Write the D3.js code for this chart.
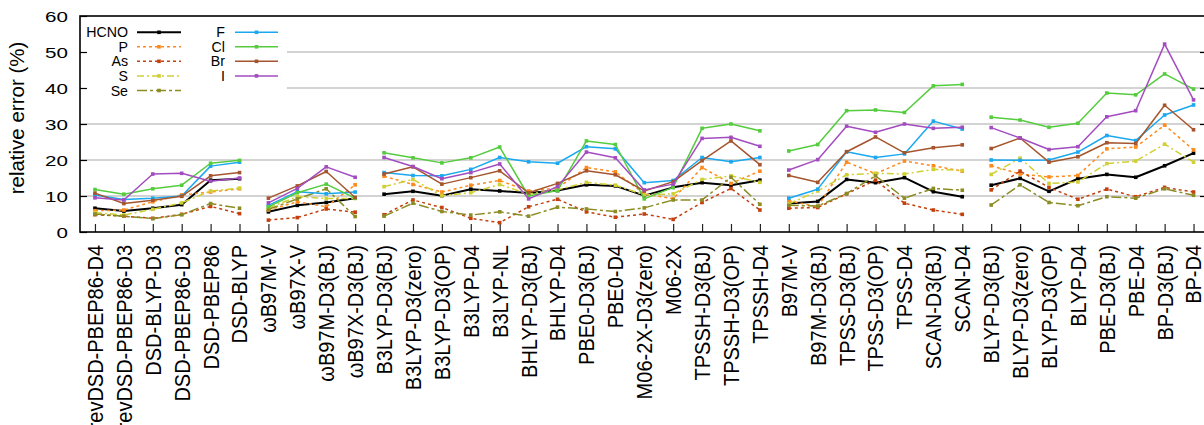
<!DOCTYPE html>
<html><head><meta charset="utf-8">
<script src="https://cdn.jsdelivr.net/npm/d3@7"></script>
<style>
body{margin:0;background:#fff}
svg{display:block}
text{font-family:"Liberation Sans",Arial,Helvetica,sans-serif;fill:#000}
</style>
</head><body>
<svg id="chart" width="1204" height="425"></svg>
<script>
const categories = ["revDSD-PBEP86-D4","revDSD-PBEP86-D3","DSD-BLYP-D3","DSD-PBEP86-D3","DSD-PBEP86","DSD-BLYP",
  "ωB97M-V","ωB97X-V","ωB97M-D3(BJ)","ωB97X-D3(BJ)",
  "B3LYP-D3(BJ)","B3LYP-D3(zero)","B3LYP-D3(OP)","B3LYP-D4","B3LYP-NL","BHLYP-D3(BJ)","BHLYP-D4","PBE0-D3(BJ)","PBE0-D4","M06-2X-D3(zero)","M06-2X","TPSSH-D3(BJ)","TPSSH-D3(OP)","TPSSH-D4",
  "B97M-V","B97M-D3(BJ)","TPSS-D3(BJ)","TPSS-D3(OP)","TPSS-D4","SCAN-D3(BJ)","SCAN-D4",
  "BLYP-D3(BJ)","BLYP-D3(zero)","BLYP-D3(OP)","BLYP-D4","PBE-D3(BJ)","PBE-D4","BP-D3(BJ)","BP-D4"];
const groupSizes = [6, 4, 14, 7, 8];
const seriesNames = ["HCNO","P","As","S","Se","F","Cl","Br","I"];
const yTicks = [0, 10, 20, 30, 40, 50, 60];

const hcnoVals = [6.6,5.8,6.6,7.6,14.4,14.8, 5.6,7.4,8.2,9.4, 10.5,11.3,10.1,11.9,11.4,10.8,11.5,13.1,12.8,10.1,12.4,13.7,13.0,14.4, 7.9,8.5,14.6,13.7,15.1,11.2,9.8, 13.0,14.9,11.3,14.8,16.0,15.2,18.4,21.9];
const pVals    = [5.9,6.1,8.4,10.3,11.1,12.0, 6.1,8.4,7.0,13.1, 15.5,13.2,11.1,13.0,14.3,11.4,12.2,17.9,16.7,10.6,9.2,17.9,13.5,16.9, 8.7,7.0,19.4,16.2,19.7,18.4,16.9, 18.4,16.1,15.3,15.7,23.1,23.6,29.7,22.8];
const asVals   = [4.8,4.4,3.8,4.9,7.1,5.1, 3.3,4.0,6.4,5.5, 4.8,8.9,6.8,3.8,2.6,7.0,9.1,5.6,4.1,5.0,3.5,8.2,12.1,6.1, 6.6,6.8,10.6,14.4,8.0,6.1,4.9, 11.7,16.9,12.4,9.1,11.9,9.8,12.4,11.1];
const sVals    = [5.4,4.7,6.3,8.1,11.4,12.2, 6.7,9.8,9.3,9.3, 12.6,14.6,10.1,10.9,13.2,10.5,11.7,13.8,13.0,10.3,10.6,14.6,15.6,13.8, 7.8,11.4,15.9,16.3,16.1,17.4,17.1, 16.0,20.5,13.5,13.9,19.0,19.7,24.4,19.4];
const seVals   = [5.0,4.4,3.7,4.8,7.9,6.6, 6.3,9.2,12.0,4.3, 4.4,8.0,5.7,4.7,5.6,4.4,6.9,6.4,5.7,6.7,8.9,8.9,15.2,7.7, 7.4,7.2,10.7,15.6,9.4,12.1,11.6, 7.5,13.1,8.2,7.3,9.8,9.4,12.0,10.2];
const fVals    = [10.3,9.0,9.4,10.0,18.3,19.4, 7.4,11.2,10.6,11.1, 16.5,15.7,15.6,17.4,20.7,19.5,19.1,23.7,23.1,13.7,14.3,20.7,19.5,20.7, 9.4,11.9,22.3,20.7,21.7,30.8,28.6, 20.0,19.9,20.0,22.2,26.8,25.4,32.5,35.3];
const clVals   = [11.8,10.5,12.0,13.0,19.1,19.9, 7.0,10.9,13.3,9.4, 22.0,20.6,19.2,20.6,23.6,10.0,11.5,25.3,24.3,9.2,12.4,28.8,30.0,28.1, 22.5,24.3,33.7,33.9,33.2,40.6,41.0, 31.9,31.1,29.1,30.2,38.6,38.1,43.9,39.7];
const brVals   = [10.8,7.9,8.8,9.9,15.6,16.5, 9.4,12.8,16.8,9.6, 16.1,18.1,13.3,15.1,17.0,10.9,13.5,17.0,15.9,11.4,14.0,19.8,25.3,18.7, 15.7,13.8,22.3,26.4,22.0,23.4,24.2, 23.2,26.1,19.4,20.9,24.8,24.6,35.2,28.4];
const iVals    = [9.5,8.9,16.1,16.3,14.1,15.0, 8.1,12.1,18.1,15.2, 20.7,18.2,14.8,16.5,18.9,9.2,12.6,22.2,20.6,11.7,13.3,26.0,26.3,23.8, 17.2,20.1,29.4,27.7,30.0,28.8,29.1, 29.0,26.1,22.9,23.7,32.0,33.7,52.2,36.7];

const seriesValues = [hcnoVals, pVals, asVals, sVals, seVals, fVals, clVals, brVals, iVals];
const seriesColors = ["#000000","#ff8a1c","#c2410f","#d0d035","#8c8c24","#1aa8f0","#55cc3e","#a5552d","#a34cc0"];
const seriesDash = [null,"3,3","3,3","7,3,2,3","10,3,3,3",null,null,null,null];
const seriesWidth = [2,1.5,1.5,1.5,1.5,1.5,1.5,1.5,1.5];

const svg = d3.select("#chart");
const L = 80, R = 1207, T = 16, B = 232;
const x = d3.scalePoint().domain(categories).range([80.5, 1208]).padding(0.5);
const y = d3.scaleLinear().domain([0, 60]).range([B, T]);

// grid
svg.append("g").selectAll("line").data(yTicks.filter(t => t > 0 && t < 60)).join("line")
  .attr("x1", L).attr("x2", R).attr("y1", d => y(d)).attr("y2", d => y(d))
  .attr("stroke", "#a8a8a8").attr("stroke-width", 1.2);

// legend background (opaque key)
svg.append("rect").attr("x", L + 1).attr("y", T + 1).attr("width", 206).attr("height", 83).attr("fill", "#fff");

// y axis
const yAxis = svg.append("g").attr("transform", `translate(${L},0)`)
  .call(d3.axisLeft(y).tickValues(yTicks).tickSize(-7).tickPadding(12));
yAxis.select(".domain").remove();
yAxis.selectAll(".tick line").attr("stroke", "#000").attr("stroke-width", 1.2);
yAxis.selectAll(".tick text").attr("font-size", 15.5).attr("x", -12 / 1.33)
  .attr("transform", "scale(1.33,1)").attr("dy", "0.33em").style("font-family", "Liberation Sans, Arial, sans-serif");

const yAxisR = svg.append("g").attr("transform", `translate(${R},0)`)
  .call(d3.axisRight(y).tickValues(yTicks.filter(t => t > 0 && t < 60)).tickSize(-7).tickFormat(""));
yAxisR.select(".domain").remove();
yAxisR.selectAll(".tick line").attr("stroke", "#000").attr("stroke-width", 1.2);

// x axis
const xAxis = svg.append("g").attr("transform", `translate(0,${B})`)
  .call(d3.axisBottom(x).tickSize(-8).tickPadding(0));
xAxis.select(".domain").remove();
xAxis.selectAll(".tick line").attr("stroke", "#222").attr("stroke-width", 1.2);
xAxis.selectAll(".tick text")
  .attr("x", 0).attr("y", 0).attr("dy", "0.35em")
  .attr("transform", "translate(0,13) rotate(-90) scale(1,1.06)")
  .attr("font-size", 20).style("text-anchor", "end")
  .style("font-family", "Liberation Sans, Arial, sans-serif");

// frame
svg.append("rect").attr("x", L).attr("y", T).attr("width", R - L).attr("height", B - T)
  .attr("fill", "none").attr("stroke", "#000").attr("stroke-width", 1.6);

// y label
svg.append("text").attr("transform", "translate(24,118) rotate(-90)")
  .attr("text-anchor", "middle").attr("font-size", 20.5).text("relative error (%)");

// series
const groups = [];
let start = 0;
groupSizes.forEach(n => { groups.push(d3.range(start, start + n)); start += n; });

const plot = svg.append("g");
seriesNames.forEach((name, s) => {
  const vals = seriesValues[s];
  const g = plot.append("g");
  const ln = d3.line().x(i => x(categories[i])).y(i => y(vals[i]));
  groups.forEach(idx => {
    g.append("path").attr("d", ln(idx)).attr("fill", "none")
      .attr("stroke", seriesColors[s]).attr("stroke-width", seriesWidth[s])
      .attr("stroke-dasharray", seriesDash[s]).attr("stroke-linejoin", "round");
  });
  g.selectAll("rect").data(d3.range(categories.length)).join("rect")
    .attr("x", i => x(categories[i]) - 1.8).attr("y", i => y(vals[i]) - 1.8)
    .attr("width", 3.6).attr("height", 3.6).attr("fill", seriesColors[s]);
});

// legend
const legCols = [{tx: 128, lx0: 137, lx1: 181}, {tx: 225, lx0: 235, lx1: 278}];
const legRowY = [32.3, 46.8, 61.3, 75.9, 90.5];
seriesNames.forEach((name, s) => {
  const col = s < 5 ? legCols[0] : legCols[1];
  const row = s < 5 ? s : s - 5;
  const ly = legRowY[row];
  const g = svg.append("g");
  g.append("text").attr("x", col.tx).attr("y", ly).attr("dy", "0.36em")
    .attr("text-anchor", "end").attr("font-size", 14.2).text(name);
  g.append("line").attr("x1", col.lx0).attr("x2", col.lx1).attr("y1", ly).attr("y2", ly)
    .attr("stroke", seriesColors[s]).attr("stroke-width", seriesWidth[s])
    .attr("stroke-dasharray", seriesDash[s]);
  g.append("rect").attr("x", (col.lx0 + col.lx1) / 2 - 1.8).attr("y", ly - 1.8)
    .attr("width", 3.6).attr("height", 3.6).attr("fill", seriesColors[s]);
});
</script>
</body></html>
